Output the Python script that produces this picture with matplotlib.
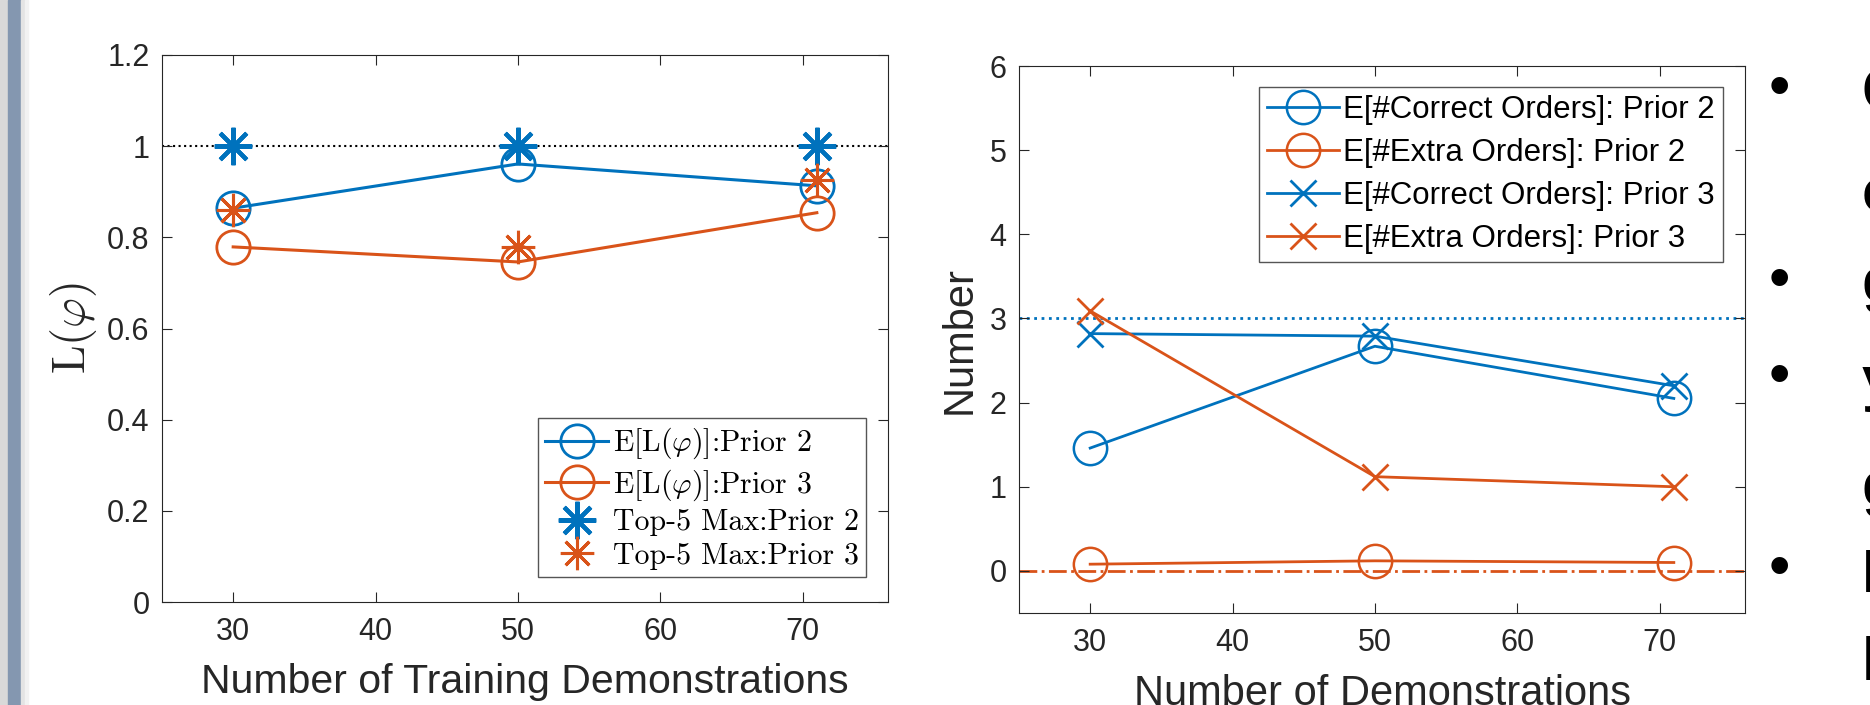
import matplotlib
matplotlib.use("Agg")
import matplotlib.pyplot as plt
from matplotlib.patches import Rectangle

plt.rcParams['font.family'] = ['Liberation Sans', 'DejaVu Sans']
plt.rcParams['mathtext.fontset'] = 'cm'

# left chart: L(phi) vs number of training demonstrations
demos = [30, 50, 71]
exp_prior2 = [0.864, 0.961, 0.913]
exp_prior3 = [0.779, 0.746, 0.854]
top5_prior2 = [1.0, 1.0, 1.0]
top5_prior3 = [0.860, 0.778, 0.926]
left_yticks = [0, 0.2, 0.4, 0.6, 0.8, 1, 1.2]
left_yticklabels = ['0', '0.2', '0.4', '0.6', '0.8', '1', '1.2']

# right chart: number of correct / extra orders
correct_prior2 = [1.46, 2.67, 2.05]
extra_prior2 = [0.08, 0.12, 0.10]
correct_prior3 = [2.82, 2.79, 2.20]
extra_prior3 = [3.09, 1.12, 1.00]
right_yticks = [0, 1, 2, 3, 4, 5, 6]
xticks = [30, 40, 50, 60, 70]

# cut-off slide text on the right edge
bullet_y = [90, 282, 378, 570]
edge_letters = ['C', 'c', 'g', 'y', 'g', 'E', 'l']
edge_letter_y = [95, 196, 286, 383, 490, 577, 665]

BLUE = '#0072BD'
ORANGE = '#D95319'
DARK = '#262626'

W, H = 1870, 705
fig = plt.figure(figsize=(W / 100, H / 100), dpi=100)


def fx(px):
    return px / W


def fy(py):
    return 1 - py / H


# slide border strip
fig.patches.append(Rectangle((0, 0), fx(8), 1, transform=fig.transFigure,
                             color='#d9d9d9', zorder=0))
fig.patches.append(Rectangle((fx(8), 0), fx(13), 1, transform=fig.transFigure,
                             color='#8497b0', zorder=0))
fig.patches.append(Rectangle((fx(21), 0), fx(4), 1, transform=fig.transFigure,
                             color='#e4e4e4', zorder=0))
fig.patches.append(Rectangle((fx(25), 0), fx(3), 1, transform=fig.transFigure,
                             color='#f2f2f2', zorder=0))


def style_axes(ax):
    for s in ax.spines.values():
        s.set_color(DARK)
        s.set_linewidth(0.8)
    ax.tick_params(direction='in', length=7, width=0.8, colors=DARK,
                   labelsize=22, top=True, right=True)
    ax.tick_params(axis='x', pad=11)
    ax.tick_params(axis='y', pad=9)


# ---- left chart ----
ax1 = fig.add_axes([fx(162), fy(602), fx(888 - 162), (602 - 55) / H])
style_axes(ax1)
ax1.axhline(1.0, color='black', ls=':', lw=1.5, zorder=1)
ax1.plot(demos, exp_prior2, color=BLUE, lw=2.2, marker='o', ms=24,
         mfc='none', mew=2, label=r'E[L($\varphi$)]:Prior 2')
ax1.plot(demos, exp_prior3, color=ORANGE, lw=2.2, marker='o', ms=24,
         mfc='none', mew=2, label=r'E[L($\varphi$)]:Prior 3')
ax1.plot(demos, top5_prior2, ls='none', color=BLUE, marker=(8, 2, 0), ms=27,
         mew=3, label='Top-5 Max:Prior 2')
ax1.plot(demos, top5_prior3, ls='none', color=ORANGE, marker=(8, 2, 0), ms=24,
         mew=2.2, label='Top-5 Max:Prior 3')
ax1.set_xlim(25, 76)
ax1.set_ylim(0, 1.2)
ax1.set_xticks(xticks)
ax1.set_yticks(left_yticks)
ax1.set_yticklabels(left_yticklabels)
ax1.set_xlabel('Number of Training Demonstrations', fontsize=29.5, color=DARK,
               labelpad=11)
ax1.set_ylabel(r'$\mathrm{L}(\varphi)$', fontsize=33, color=DARK, labelpad=6)
leg1 = ax1.legend(loc='lower right', bbox_to_anchor=(fx(866), fy(577)),
                  bbox_transform=fig.transFigure, borderaxespad=0,
                  prop={'family': 'cmr10', 'size': 21.5}, handlelength=2.1,
                  handletextpad=0.15, labelspacing=0.2, borderpad=0.25,
                  fancybox=False, framealpha=1, edgecolor='#555555')
leg1.get_frame().set_linewidth(1.0)

# ---- right chart ----
ax2 = fig.add_axes([fx(1019), fy(613), fx(1745 - 1019), (613 - 66) / H])
style_axes(ax2)
ax2.axhline(3, color=BLUE, ls=':', lw=2.0, zorder=1)
ax2.axhline(0, color=ORANGE, ls='-.', lw=2.0, zorder=1)
ax2.plot(demos, correct_prior2, color=BLUE, lw=2.0, marker='o', ms=24,
         mfc='none', mew=1.8, label='E[#Correct Orders]: Prior 2')
ax2.plot(demos, extra_prior2, color=ORANGE, lw=2.0, marker='o', ms=24,
         mfc='none', mew=1.8, label='E[#Extra Orders]: Prior 2')
ax2.plot(demos, correct_prior3, color=BLUE, lw=2.0, marker='x', ms=19,
         mew=2.0, label='E[#Correct Orders]: Prior 3')
ax2.plot(demos, extra_prior3, color=ORANGE, lw=2.0, marker='x', ms=19,
         mew=2.0, label='E[#Extra Orders]: Prior 3')
ax2.set_xlim(25, 76)
ax2.set_ylim(-0.5, 6)
ax2.set_xticks(xticks)
ax2.set_yticks(right_yticks)
ax2.set_xlabel('Number of Demonstrations', fontsize=30, color=DARK, labelpad=11)
ax2.set_ylabel('Number', fontsize=30, color=DARK, labelpad=7)
leg2 = ax2.legend(loc='upper right', bbox_to_anchor=(fx(1723), fy(87)),
                  bbox_transform=fig.transFigure, borderaxespad=0,
                  fontsize=22.5, handlelength=2.3, handletextpad=0.15,
                  labelspacing=0.42, borderpad=0.25, fancybox=False,
                  framealpha=1, edgecolor='#555555')
leg2.get_frame().set_linewidth(1.0)

# ---- slide bullets on the right ----
for by in bullet_y:
    fig.text(fx(1779), fy(by), '\u2022', fontsize=44, ha='center',
             va='center', color='black')
for ch, ly in zip(edge_letters, edge_letter_y):
    fig.text(fx(1862), fy(ly), ch, fontsize=44, fontweight='bold',
             ha='left', va='center', color='black')

fig.savefig('out.png', dpi=100)
